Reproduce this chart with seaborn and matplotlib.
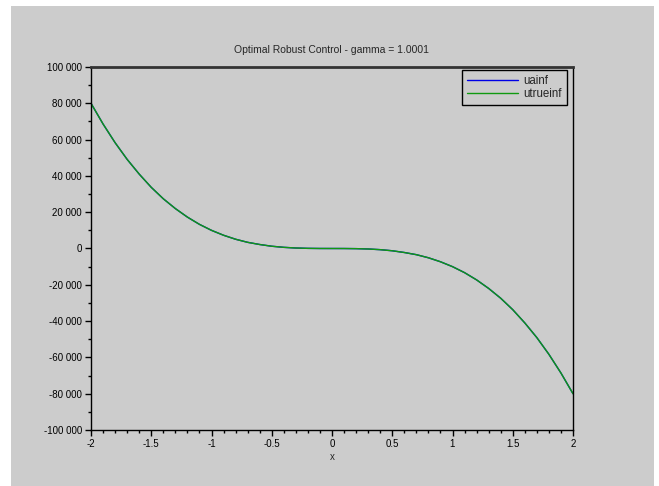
import matplotlib
matplotlib.use("Agg")
import matplotlib.pyplot as plt
from matplotlib.patches import Rectangle
from matplotlib.ticker import MultipleLocator, FuncFormatter
import seaborn as sns
import pandas as pd

sns.set_theme(style="white")
plt.rcParams['font.family'] = ['Liberation Sans', 'DejaVu Sans']

x_vals = [-2.0, -1.9, -1.8, -1.7, -1.6, -1.5, -1.4, -1.3, -1.2, -1.1, -1.0,
          -0.9, -0.8, -0.7, -0.6, -0.5, -0.4, -0.3, -0.2, -0.1, 0.0,
          0.1, 0.2, 0.3, 0.4, 0.5, 0.6, 0.7, 0.8, 0.9, 1.0,
          1.1, 1.2, 1.3, 1.4, 1.5, 1.6, 1.7, 1.8, 1.9, 2.0]
uainf = [80000, 68600, 58300, 49100, 41000, 33700, 27400, 22000, 17300, 13300, 10000,
         7300, 5100, 3400, 2200, 1250, 640, 270, 80, 10, 0,
         -10, -80, -270, -640, -1250, -2200, -3400, -5100, -7300, -10000,
         -13300, -17300, -22000, -27400, -33700, -41000, -49100, -58300, -68600, -80000]
utrueinf = [80000, 68600, 58300, 49100, 41000, 33700, 27400, 22000, 17300, 13300, 10000,
            7300, 5100, 3400, 2200, 1250, 640, 270, 80, 10, 0,
            -10, -80, -270, -640, -1250, -2200, -3400, -5100, -7300, -10000,
            -13300, -17300, -22000, -27400, -33700, -41000, -49100, -58300, -68600, -80000]

df = pd.DataFrame({
    "x": x_vals * 2,
    "y": uainf + utrueinf,
    "series": ["uainf"] * len(x_vals) + ["utrueinf"] * len(x_vals),
})

grey = "#cccccc"
fig = plt.figure(figsize=(6.59, 4.86), dpi=100, facecolor="white")
fig.patches.append(Rectangle((11 / 659, 0), (654 - 11) / 659, 1 - 6 / 486,
                             transform=fig.transFigure, facecolor=grey,
                             edgecolor="none", zorder=-10))
ax = fig.add_axes([91 / 659, 1 - 430 / 486, (573 - 91) / 659, (430 - 67) / 486])
ax.set_facecolor(grey)

sns.lineplot(data=df, x="x", y="y", hue="series",
             palette={"uainf": "#0000e6", "utrueinf": "#109a10"},
             linewidth=1.0, ax=ax, estimator=None, sort=False)

ax.set_xlim(-2, 2)
ax.set_ylim(-100000, 100000)
ax.xaxis.set_major_locator(MultipleLocator(0.5))
ax.xaxis.set_minor_locator(MultipleLocator(0.1))
ax.yaxis.set_major_locator(MultipleLocator(20000))
ax.yaxis.set_minor_locator(MultipleLocator(10000))


def fmt_x(v, pos):
    s = f"{v:g}"
    return "0" if s == "-0" else s


def fmt_y(v, pos):
    iv = int(round(v))
    s = f"{abs(iv):,}".replace(",", " ")
    return ("-" if iv < 0 else "") + s


ax.xaxis.set_major_formatter(FuncFormatter(fmt_x))
ax.yaxis.set_major_formatter(FuncFormatter(fmt_y))
ax.tick_params(axis="both", which="major", direction="out", length=4.5, width=1,
               color="black", labelsize=7, labelcolor="black", pad=2,
               bottom=True, left=True)
ax.tick_params(axis="both", which="minor", direction="out", length=2.3, width=1,
               color="black", bottom=True, left=True)

for side in ["left", "bottom", "right"]:
    ax.spines[side].set_color("black")
    ax.spines[side].set_linewidth(1.0)
ax.spines["top"].set_color("#333333")
ax.spines["top"].set_linewidth(2.0)

ax.set_xlabel("x", fontsize=7, labelpad=2)
ax.set_ylabel("")
ax.set_title("Optimal Robust Control - gamma = 1.0001", fontsize=7.5, pad=10)

leg = ax.legend(loc="upper right", fontsize=8.3, frameon=True, fancybox=False,
                handlelength=4.35, bbox_to_anchor=(1 - 6 / 482, 1 - 3 / 363),
                borderaxespad=0, borderpad=0.45,
                labelspacing=0.05, handletextpad=0.5)
leg.get_frame().set_edgecolor("black")
leg.get_frame().set_facecolor(grey)
leg.get_frame().set_linewidth(1.0)
leg.get_frame().set_alpha(1)

fig.savefig("out.png", dpi=100, facecolor="white")
